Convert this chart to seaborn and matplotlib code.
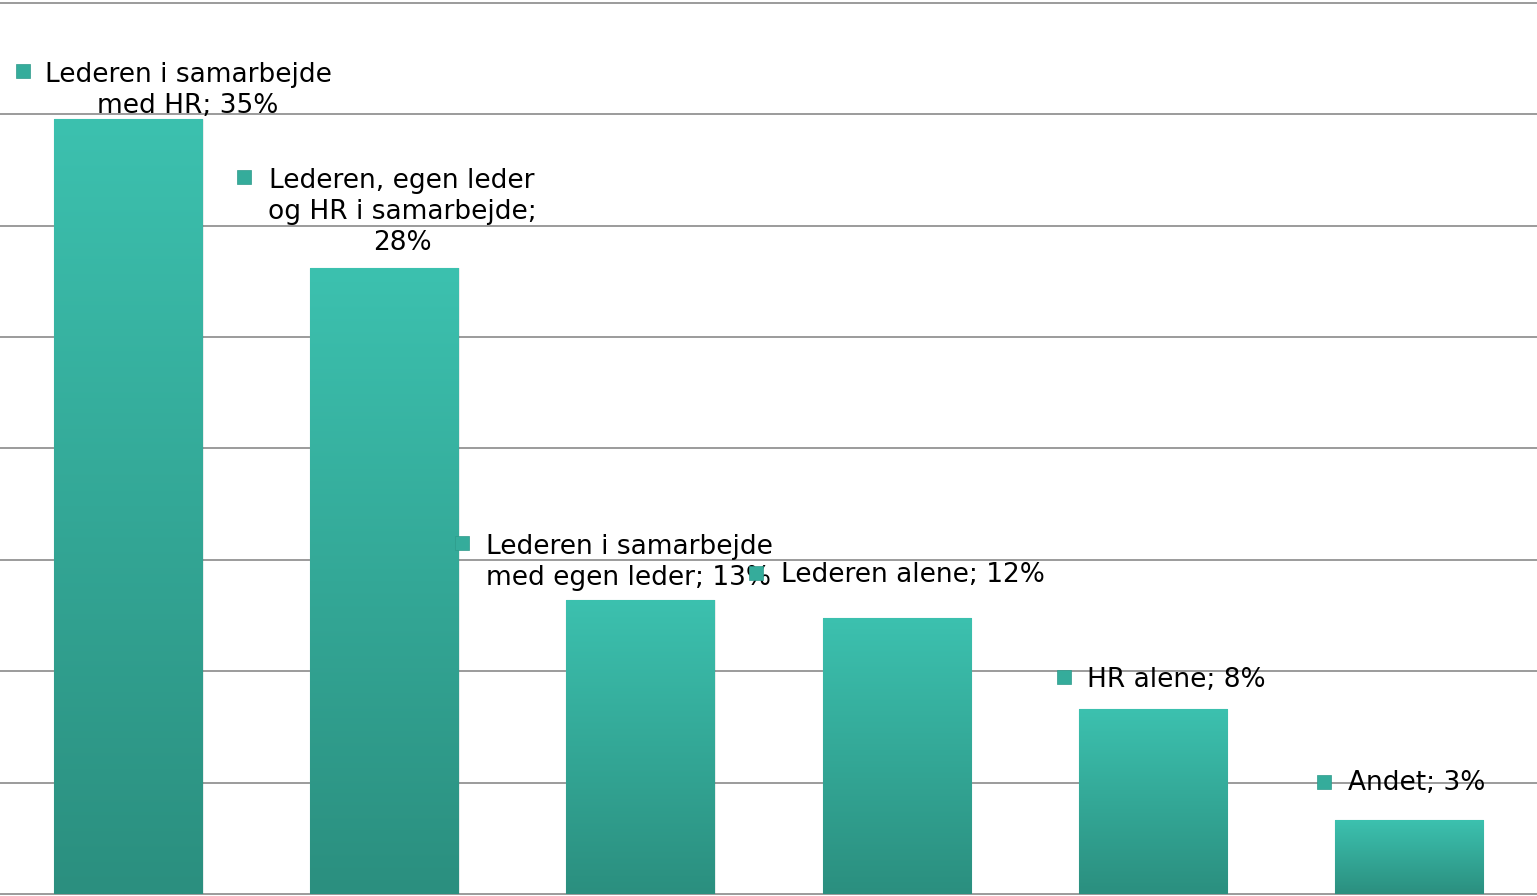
import numpy as np
import pandas as pd
import matplotlib
matplotlib.use("Agg")
import matplotlib.pyplot as plt
import matplotlib.transforms as mtransforms
import seaborn as sns

categories = [
    "Lederen i samarbejde med HR",
    "Lederen, egen leder og HR i samarbejde",
    "Lederen i samarbejde med egen leder",
    "Lederen alene",
    "HR alene",
    "Andet",
]
values = [34.8, 28.1, 13.2, 12.4, 8.3, 3.3]
label_texts = [
    "Lederen i samarbejde\nmed HR; 35%",
    "Lederen, egen leder\nog HR i samarbejde;\n28%",
    "Lederen i samarbejde\nmed egen leder; 13%",
    "Lederen alene; 12%",
    "HR alene; 8%",
    "Andet; 3%",
]
# label layout: (text center dx px, text center dy px above bar top, square dx px, square dy px)
label_layout = [
    (60, 28.5, -105.5, 47.5),
    (18, 56.5, -140.5, 91),
    (-11, 37.5, -178, 57),
    (16, 43, -140.5, 45),
    (24, 29, -89, 32),
    (7.5, 37, -84.5, 38.5),
]
multialign = ["center", "center", "left", "center", "center", "center"]

sns.set_theme(style="white")
plt.rcParams['font.family'] = ['DejaVu Sans']

W, H = 1537, 896
fig = plt.figure(figsize=(W / 100, H / 100), dpi=100)
ax = fig.add_axes([0, 2 / H, 1, 891 / H])

df = pd.DataFrame({"cat": categories, "val": values})
sns.barplot(data=df, x="cat", y="val", color="#3bbfad", width=0.578,
            ax=ax, saturation=1, edgecolor="#58c6b6", linewidth=0.8, zorder=3)

ax.set_xlim(-0.5, 5.5)
ax.set_ylim(0, 40)

# gradient fill
top = np.array([60, 193, 175]) / 255
bot = np.array([43, 143, 127]) / 255
grad = np.linspace(0, 1, 256)[:, None]
img = top[None, None, :] * (1 - grad[:, :, None]) + bot[None, None, :] * grad[:, :, None]
for p in ax.patches:
    x0, y0 = p.get_x(), p.get_y()
    w, h = p.get_width(), p.get_height()
    im = ax.imshow(img, extent=[x0, x0 + w, y0, y0 + h], aspect="auto",
                   origin="upper", zorder=3.5, interpolation="bilinear")
    im.set_clip_path(p)
    ax.add_patch(plt.Rectangle((x0 + w, y0), 0.006, h, color="#000000",
                               alpha=0.06, zorder=2.5, lw=0))
ax.set_xlim(-0.5, 5.5)
ax.set_ylim(0, 40)

for yv in np.arange(0, 45, 5):
    ax.axhline(yv, color="#8a8a8a", lw=1.2, zorder=2, clip_on=False)

ax.set_xticks([])
ax.set_yticks([])
ax.set_xlabel("")
ax.set_ylabel("")
for s in ax.spines.values():
    s.set_visible(False)

for i, (v, txt) in enumerate(zip(values, label_texts)):
    tdx, tdy, sdx, sdy = label_layout[i]
    tt = mtransforms.offset_copy(ax.transData, fig=fig, x=tdx * 0.72, y=tdy * 0.72, units="points")
    ax.text(i, v, txt, transform=tt, ha="center", va="center", fontsize=19,
            color="black", multialignment=multialign[i], linespacing=1.25, zorder=6)
    st = mtransforms.offset_copy(ax.transData, fig=fig, x=sdx * 0.72, y=sdy * 0.72, units="points")
    ax.plot([i], [v], marker="s", markersize=10.5, color="#35ac9b",
            markeredgecolor="#2e9a8a", markeredgewidth=0.5, transform=st,
            zorder=7, clip_on=False)

fig.savefig("out.png", dpi=100)
